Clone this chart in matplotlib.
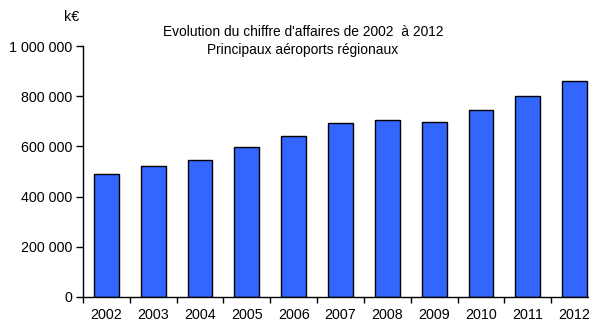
import matplotlib
matplotlib.use("Agg")
import matplotlib.pyplot as plt
from matplotlib.ticker import FixedLocator, FuncFormatter

years = ["2002", "2003", "2004", "2005", "2006", "2007", "2008", "2009", "2010", "2011", "2012"]
revenue_keur = [490000, 522000, 546000, 596000, 643000, 693000, 704000, 698000, 744000, 800000, 860000]
y_ticks = [0, 200000, 400000, 600000, 800000, 1000000]

plt.rcParams["font.family"] = ["Liberation Sans", "DejaVu Sans"]

fig = plt.figure(figsize=(5.89, 3.22), dpi=100)
ax = fig.add_axes([83 / 589, 25 / 322, 515 / 589, 251 / 322])

x = list(range(len(years)))
ax.bar(x, revenue_keur, width=0.53, color="#3366FF", edgecolor="black", linewidth=1.0, zorder=2)

ax.set_xlim(-0.5, len(years) - 0.5)
ax.set_ylim(0, 1000000)

ax.yaxis.set_major_locator(FixedLocator(y_ticks))
ax.yaxis.set_major_formatter(FuncFormatter(lambda v, p: f"{int(v):,}".replace(",", " ")))
ax.tick_params(axis="y", direction="out", length=5, width=1, labelsize=10.3, pad=3, colors="black")

ax.set_xticks(x)
ax.set_xticklabels(years)
ax.tick_params(axis="x", which="major", length=0, labelsize=10.3, pad=8)
ax.xaxis.set_minor_locator(FixedLocator([i - 0.5 for i in range(len(years) + 1)]))
ax.tick_params(axis="x", which="minor", direction="out", length=4, width=1)

for side in ("top", "right"):
    ax.spines[side].set_visible(False)
for side in ("left", "bottom"):
    ax.spines[side].set_linewidth(1.0)
    ax.spines[side].set_color("black")

fig.text(72 / 589, 1 - 17 / 322, "k€", ha="center", va="center", fontsize=10.3)
fig.text(303 / 589, 1 - 32 / 322, "Evolution du chiffre d'affaires de 2002  à 2012",
         ha="center", va="center", fontsize=9.9)
fig.text(303 / 589, 1 - 50 / 322, "Principaux aéroports régionaux",
         ha="center", va="center", fontsize=9.9)

fig.savefig("out.png", dpi=100)
